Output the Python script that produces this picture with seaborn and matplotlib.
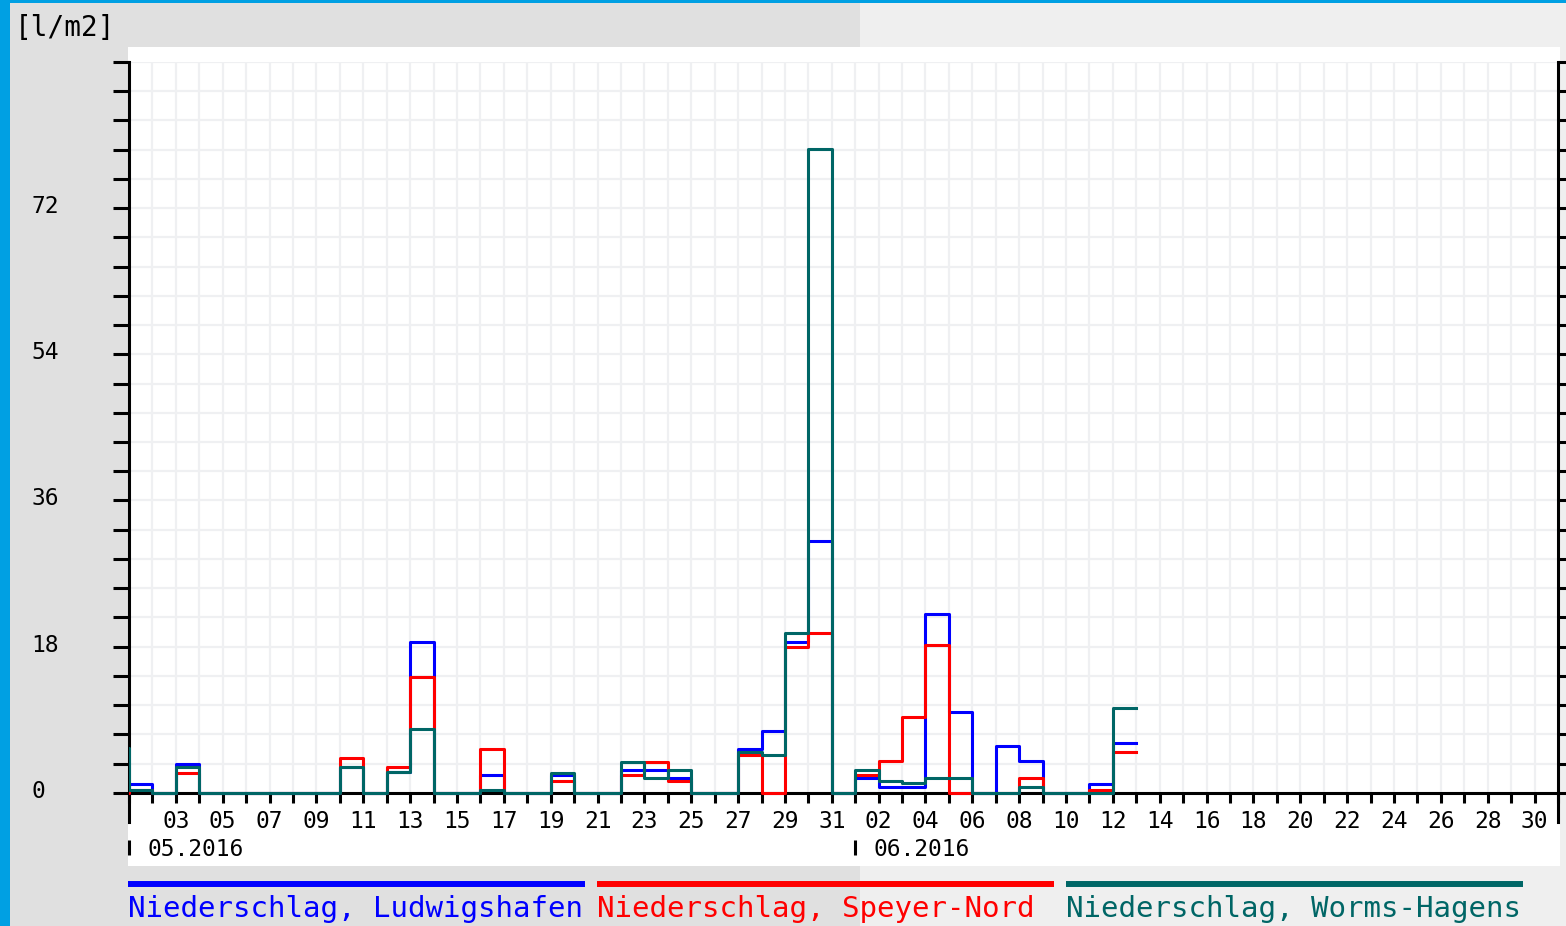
import numpy as np
import pandas as pd
import matplotlib.pyplot as plt
import matplotlib.dates as mdates
import seaborn as sns
from matplotlib.patches import Rectangle
from matplotlib.lines import Line2D
from matplotlib.ticker import FuncFormatter
from matplotlib.transforms import ScaledTranslation

#### data: daily precipitation [l/m2], 30.04.2016 - 12.06.2016 ####
start_day = "2016-04-30"
stations = ["Niederschlag, Ludwigshafen", "Niederschlag, Speyer-Nord", "Niederschlag, Worms-Hagens"]
colors = ["#0000ff", "#ff0000", "#006666"]

#             A30  M01  02   03   04 05 06 07 08 09  10  11  12   13
ludwigshafen = [0, 1.1, 0, 3.5, 0, 0, 0, 0, 0, 0, 3.2, 0, 2.5, 18.6,
                # 14 15  16  17 18  19  20 21  22   23   24  25 26  27    28    29    30  31
                0, 0, 2.2, 0, 0, 2.2, 0, 0, 2.8, 2.8, 1.8, 0, 0, 5.35, 7.55, 18.6, 31.0, 0,
                # J01  02   03    04    05  06  07   08  09 10  11   12
                1.8, 0.7, 0.7, 22.0, 10.0, 0, 5.7, 3.9, 0, 0, 1.1, 6.1]
speyer = [0, 0.35, 0, 2.45, 0, 0, 0, 0, 0, 0, 4.25, 0, 3.2, 14.3,
          0, 0, 5.35, 0, 0, 1.45, 0, 0, 2.25, 3.85, 1.45, 0, 0, 4.65, 0, 18.0, 19.7, 0,
          2.2, 3.9, 9.3, 18.2, 0, 0, 0, 1.8, 0, 0, 0.35, 5.0]
worms = [5.5, 0.35, 0, 3.2, 0, 0, 0, 0, 0, 0, 3.2, 0, 2.5, 7.9,
         0, 0, 0.4, 0, 0, 2.4, 0, 0, 3.85, 1.8, 2.8, 0, 0, 5.05, 4.65, 19.7, 79.3, 0,
         2.8, 1.43, 1.15, 1.8, 1.8, 0, 0, 0.7, 0, 0, 0, 10.4]

y_major = [0, 18, 36, 54, 72]
y_step = 3.6
y_top = 90
x_start, x_end = "2016-05-01", "2016-07-01"
month_starts = ["2016-05-01", "2016-06-01"]
month_labels = ["05.2016", "06.2016"]

#### long-form table (step edges: one extra edge closes the last day) ####
rows = []
for name, vals in zip(stations, [ludwigshafen, speyer, worms]):
    edges = pd.date_range(start_day, periods=len(vals) + 1, freq="D")
    for d, v in zip(edges, vals + vals[-1:]):
        rows.append({"date": d, "station": name, "value": v})
df = pd.DataFrame(rows)

#### figure ####
plt.rcParams["font.family"] = ["DejaVu Sans Mono"]
W, H = 1566, 926
fig = plt.figure(figsize=(W / 100, H / 100), dpi=100, facecolor="#efefef")


def box(x0, y0, x1, y1, color):
    fig.add_artist(Rectangle((x0 / W, 1 - y1 / H), (x1 - x0) / W, (y1 - y0) / H,
                             transform=fig.transFigure, color=color, lw=0, zorder=-10))


box(10, 3, 860, H, "#e0e0e0")
box(0, 0, 10, H, "#00a0e3")
box(0, 0, W, 3, "#00a0e3")
box(128, 47, 1560, 866, "white")

ax = fig.add_axes([129 / W, (H - 822) / H, (1558 - 129) / W, (822 - 62) / H])
ax.set_facecolor("white")

grid_color = "#eff0f2"
ax.vlines(pd.date_range("2016-05-02", "2016-06-30", freq="D"), 0, y_top,
          colors=grid_color, lw=1.6, zorder=0)

sns.lineplot(data=df, x="date", y="value", hue="station", hue_order=stations,
             palette=dict(zip(stations, colors)), drawstyle="steps-post",
             estimator=None, linewidth=2.2, legend=False, ax=ax, zorder=3)

ax.set_xlim(pd.Timestamp(x_start), pd.Timestamp(x_end))
ax.set_ylim(-y_step, y_top)
ax.set_xlabel("")
ax.set_ylabel("")

# y axis
ax.set_yticks(y_major)
ax.set_yticklabels([str(v) for v in y_major])
ax.set_yticks(np.arange(0, y_top + 0.01, y_step), minor=True)
ax.grid(axis="y", which="both", color=grid_color, lw=1.6)
ax.set_axisbelow(True)
ax.tick_params(axis="y", which="both", direction="out", length=11.5, width=2.2,
               left=True, right=True, labelsize=16.5, pad=59)

# x axis: a tick each day, a label every second day
first = mdates.date2num(pd.Timestamp(x_start))
n_days = int(mdates.date2num(pd.Timestamp(x_end)) - first)


def day_label(v, pos):
    k = int(round(v - first))
    if k % 2 == 0 and 0 < k < n_days:
        return mdates.num2date(v).strftime("%d")
    return ""


ax.xaxis.set_major_locator(mdates.DayLocator())
ax.xaxis.set_major_formatter(FuncFormatter(day_label))
ax.tick_params(axis="x", which="major", direction="out", length=7.2, width=2.2,
               labelsize=16.5, pad=5)

for s in ["left", "right", "bottom"]:
    ax.spines[s].set_linewidth(2.2)
    ax.spines[s].set_color("black")
ax.spines["top"].set_visible(False)
ax.spines["bottom"].set_position(("data", 0))

# y labels left aligned, nudged up a little
nudge = ScaledTranslation(0, 4 / 100, fig.dpi_scale_trans)
for lab in ax.get_yticklabels():
    lab.set_ha("left")
    lab.set_transform(lab.get_transform() + nudge)

# month marks and labels
month_nums = [mdates.date2num(pd.Timestamp(m)) for m in month_starts]
sec = ax.secondary_xaxis(location=-0.0434)
sec.set_xticks(month_nums)
sec.tick_params(direction="in", length=10.8, width=2.2, labelbottom=False)
sec.spines["bottom"].set_visible(False)
for m, lab in zip(month_nums, month_labels):
    ax.annotate(lab, xy=(m, 0), xycoords="data", xytext=(13, -41),
                textcoords="offset points", ha="left", va="center", fontsize=16.5,
                annotation_clip=False)

# unit
fig.text(15 / W, 1 - 14 / H, "[l/m2]", va="top", ha="left", fontsize=20)

# legend: coloured bar above each station name
for i, (name, c) in enumerate(zip(stations, colors)):
    x0 = 128 + i * 469
    fig.add_artist(Line2D([x0 / W, (x0 + 457) / W], [1 - 884 / H, 1 - 884 / H],
                          transform=fig.transFigure, color=c, lw=4.3,
                          solid_capstyle="butt"))
    fig.text(x0 / W, 1 - 917 / H, name, color=c, fontsize=21, ha="left",
             va="baseline")

fig.savefig("out.png", dpi=100, facecolor=fig.get_facecolor())
